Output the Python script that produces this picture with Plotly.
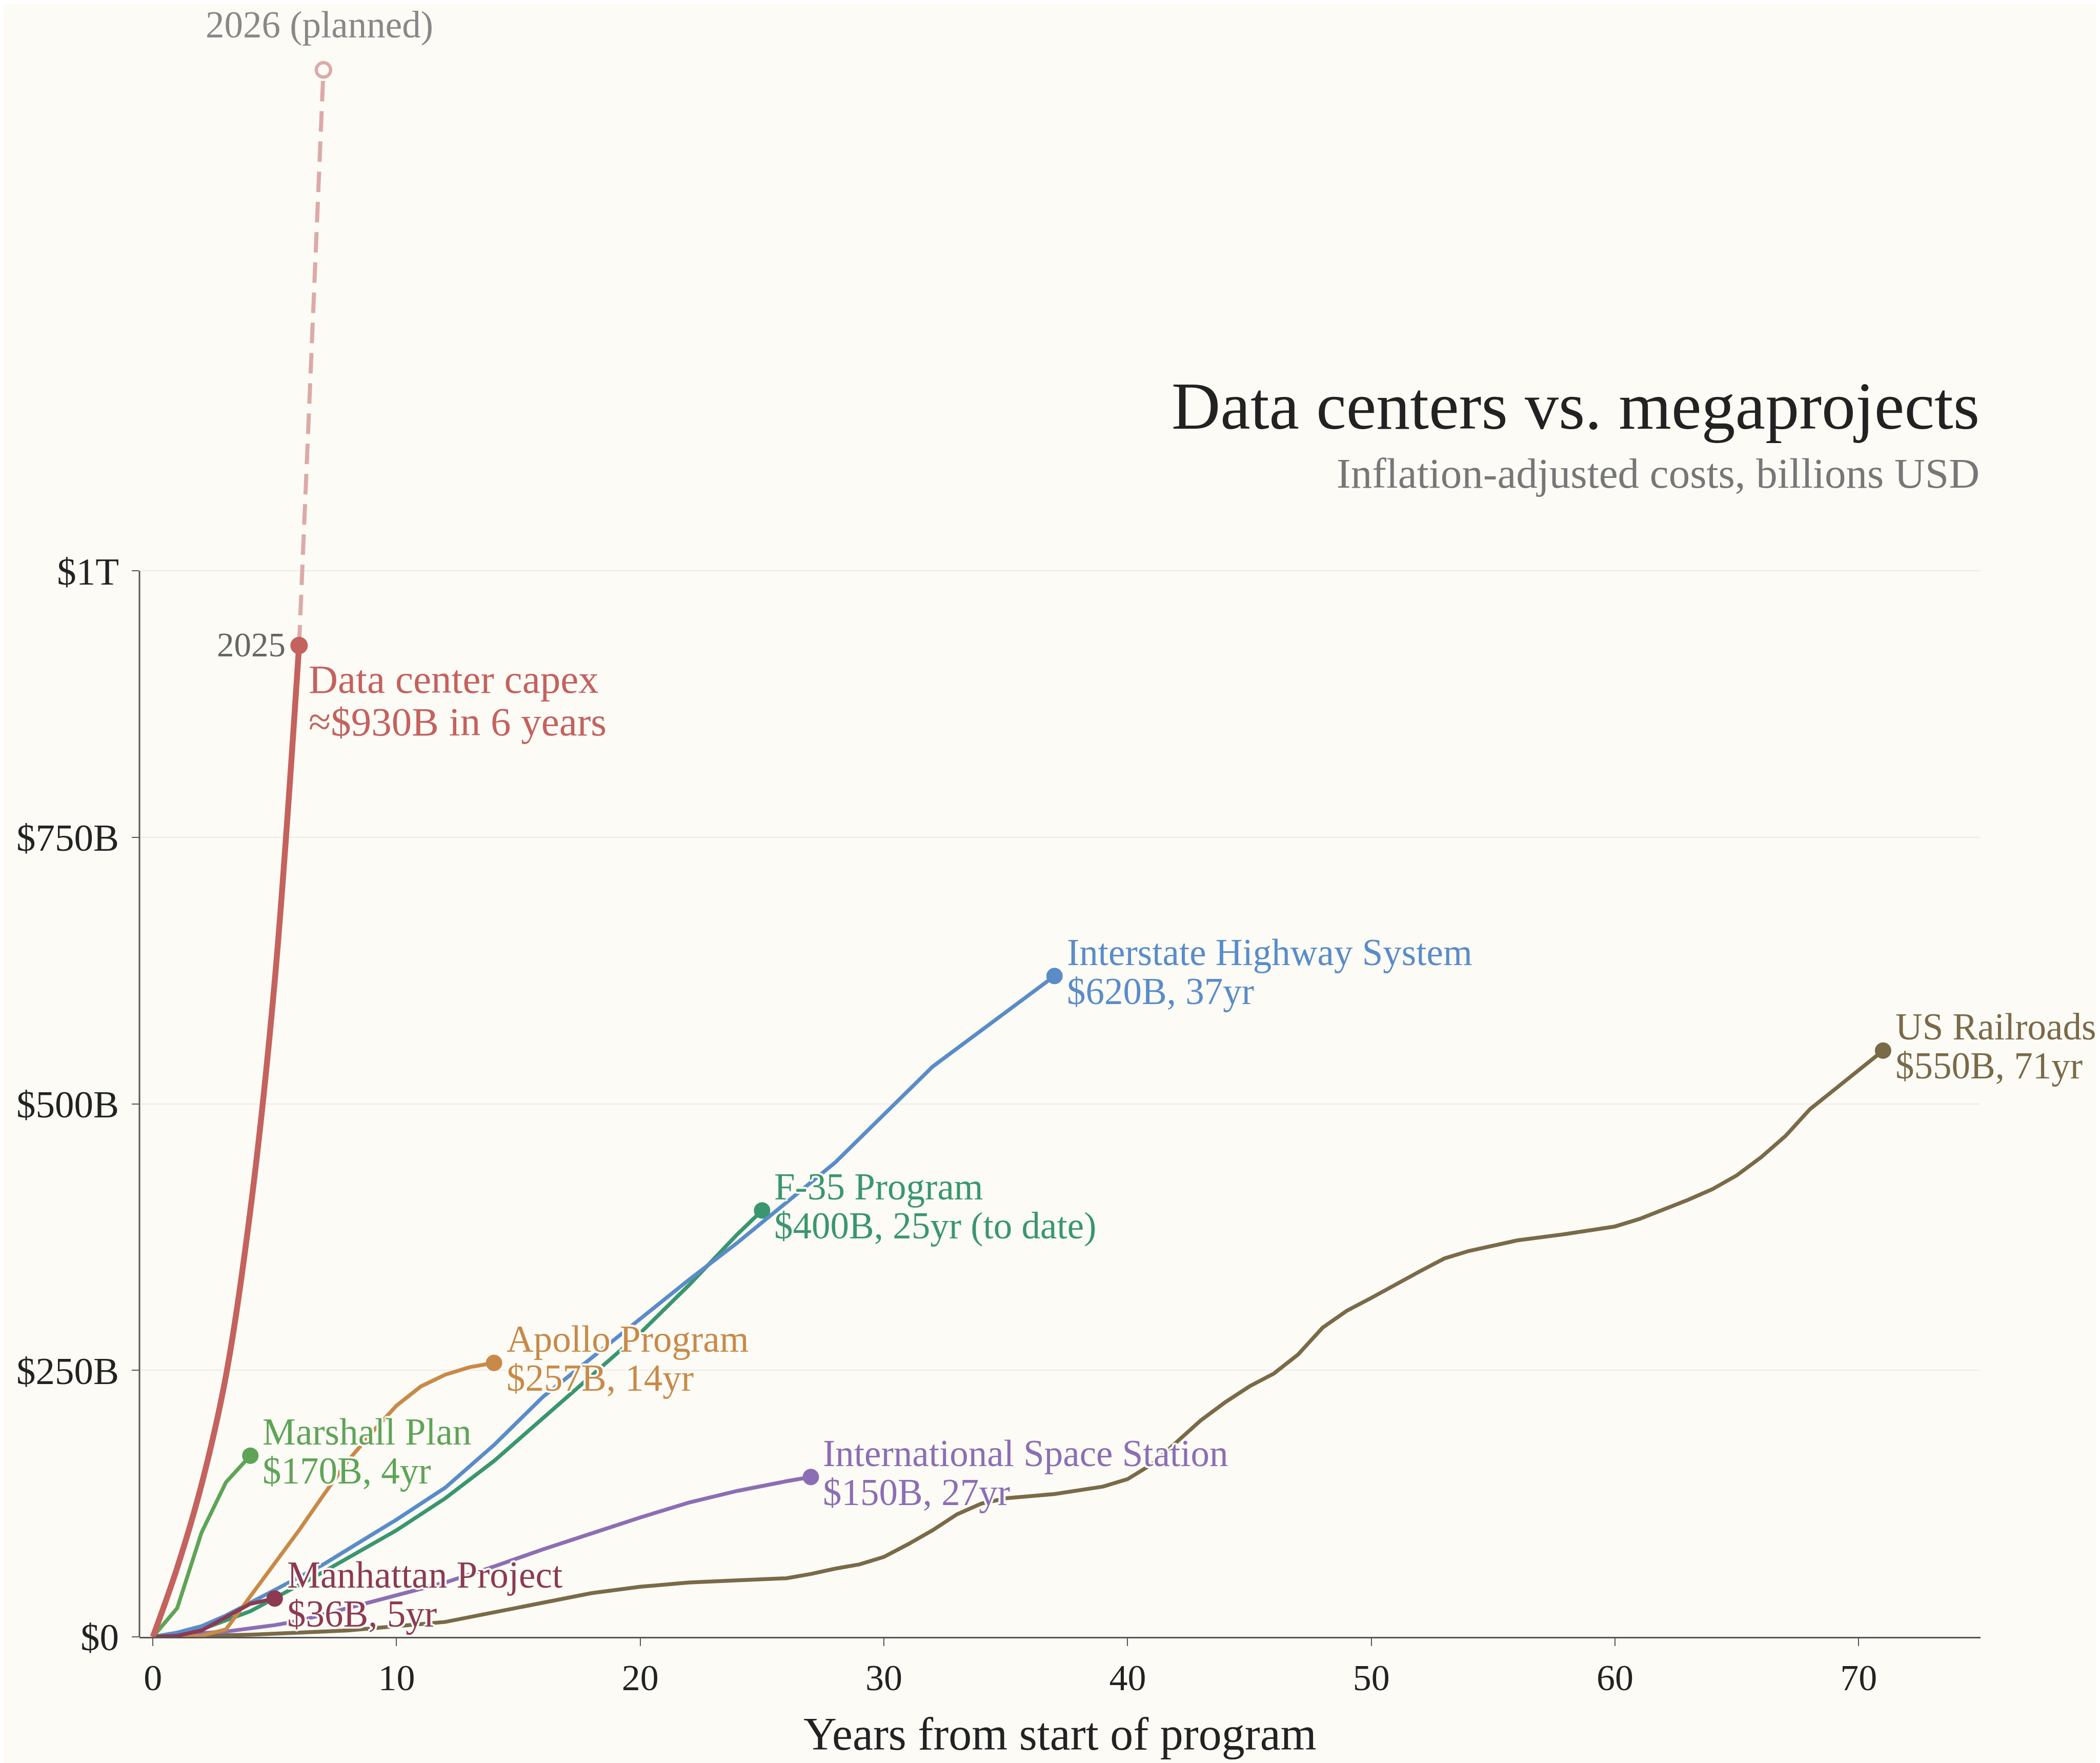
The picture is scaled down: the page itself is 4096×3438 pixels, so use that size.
import plotly.graph_objects as go

# ---------------- data (billions USD, years from program start) ----------------
dc_years = [0, 1, 2, 3, 4, 5, 6]
dc_vals = [0, 65, 143, 245, 400, 615, 930]
planned_year = 7
planned_val = 1470

marshall_years = [0, 1, 2, 3, 4]
marshall_vals = [0, 27, 98, 145, 170]

manhattan_years = [0, 1, 2, 3, 4, 5]
manhattan_vals = [0, 1, 6, 18, 31, 36]

apollo_years = list(range(0, 15))
apollo_vals = [0, 0, 1, 7, 38, 69, 100, 133, 165, 192, 217, 235, 246, 253, 257]

interstate_years = [0, 1, 2, 3, 4, 5, 6, 7, 8, 9, 10, 12, 14, 16, 18, 20, 22, 24, 26, 28, 30, 32, 34, 37]
interstate_vals = [0, 4, 10, 20, 32, 44, 56, 68, 82, 96, 110, 140, 180, 225, 262, 298, 335, 370, 407, 445, 490, 535, 569, 620]

f35_years = [0, 2, 4, 5, 6, 7, 8, 10, 12, 14, 16, 18, 20, 22, 24, 25]
f35_vals = [0, 7, 24, 36, 48, 61, 74, 100, 130, 165, 205, 245, 285, 330, 378, 400]

iss_years = [0, 2, 3, 4, 5, 6, 8, 10, 12, 14, 16, 18, 20, 22, 24, 26, 27]
iss_vals = [0, 3, 5, 8, 11, 15, 27, 39, 51, 66, 82, 97, 112, 126, 137, 146, 150]

rail_years = [0, 2, 4, 6, 8, 10, 12, 14, 16, 18, 20, 22, 24, 26, 27, 28, 29, 30, 31, 32, 33, 34, 35, 37,
              39, 40, 41, 42, 43, 44, 45, 46, 47, 48, 49, 50, 51, 52, 53, 54, 56, 58, 60, 61, 62, 63,
              64, 65, 66, 67, 68, 69, 70, 71]
rail_vals = [0, 1, 2, 4, 6, 10, 14, 23, 32, 41, 47, 51, 53, 55, 59, 64, 68, 75, 87, 100, 115, 125, 130, 134,
             141, 148, 162, 182, 203, 220, 235, 247, 265, 290, 306, 318, 331, 343, 355, 362, 372, 378, 385, 392, 401, 410,
             420, 433, 450, 470, 495, 513, 532, 550]

y_tickvals = [0, 250, 500, 750, 1000]
y_ticktext = ["$0", "$250B", "$500B", "$750B", "$1T"]
x_tickvals = [0, 10, 20, 30, 40, 50, 60, 70]

# ---------------- style ----------------
BG = "#fcfbf6"
FONT = "Liberation Serif"
W, H = 4096, 3438
ML, MR, MT, MB = 264, 241, 66, 254
PLOT_H = H - MT - MB

C_DC = "#c4625e"
C_PLAN = "#dcaaa8"
C_MARSHALL = "#5fa456"
C_MANHATTAN = "#8c3a52"
C_APOLLO = "#c88a48"
C_INTER = "#5a8cc8"
C_F35 = "#3a966e"
C_ISS = "#8c6eb4"
C_RAIL = "#7a6a48"

HALO = ", ".join(f"{dx}px {dy}px 0 {BG}" for dx, dy in
                 [(4, 0), (-4, 0), (0, 4), (0, -4), (3, 3), (-3, 3), (3, -3), (-3, -3)])


def paper_y(px):
    return (H - MB - px) / PLOT_H


fig = go.Figure()

series = [
    ("US Railroads", rail_years, rail_vals, C_RAIL, "$550B, 71yr"),
    ("International Space Station", iss_years, iss_vals, C_ISS, "$150B, 27yr"),
    ("F-35 Program", f35_years, f35_vals, C_F35, "$400B, 25yr (to date)"),
    ("Interstate Highway System", interstate_years, interstate_vals, C_INTER, "$620B, 37yr"),
    ("Apollo Program", apollo_years, apollo_vals, C_APOLLO, "$257B, 14yr"),
    ("Manhattan Project", manhattan_years, manhattan_vals, C_MANHATTAN, "$36B, 5yr"),
    ("Marshall Plan", marshall_years, marshall_vals, C_MARSHALL, "$170B, 4yr"),
]

for name, xs, ys, col, _ in series:
    fig.add_trace(go.Scatter(x=xs, y=ys, mode="lines", line=dict(color=col, width=7.5),
                             hoverinfo="skip", showlegend=False))
    fig.add_trace(go.Scatter(x=[xs[-1]], y=[ys[-1]], mode="markers",
                             marker=dict(color=col, size=32), hoverinfo="skip", showlegend=False))

# planned dashed extension
fig.add_trace(go.Scatter(x=[dc_years[-1], planned_year], y=[dc_vals[-1], planned_val], mode="lines",
                         line=dict(color=C_PLAN, width=8, dash="40px,19px"),
                         hoverinfo="skip", showlegend=False))
fig.add_trace(go.Scatter(x=[planned_year], y=[planned_val], mode="markers",
                         marker=dict(color=BG, size=28, line=dict(color=C_PLAN, width=6.5)),
                         hoverinfo="skip", showlegend=False))
# data center capex
fig.add_trace(go.Scatter(x=dc_years, y=dc_vals, mode="lines", line=dict(color=C_DC, width=11.5, shape="spline"),
                         hoverinfo="skip", showlegend=False))
fig.add_trace(go.Scatter(x=[dc_years[-1]], y=[dc_vals[-1]], mode="markers",
                         marker=dict(color=C_DC, size=34), hoverinfo="skip", showlegend=False))

annotations = []
LABEL_SIZE = 73
for name, xs, ys, col, sub in series:
    for txt, ysh in [(name, 46), (sub, -30)]:
        annotations.append(dict(x=xs[-1], y=ys[-1], xref="x", yref="y", text=txt, showarrow=False,
                                xanchor="left", yanchor="middle", xshift=22, yshift=ysh,
                                font=dict(family=FONT, size=LABEL_SIZE, color=col, shadow=HALO)))

for txt, ysh in [("Data center capex", -66), ("≈$930B in 6 years", -149)]:
    annotations.append(dict(x=dc_years[-1], y=dc_vals[-1], xref="x", yref="y", text=txt, showarrow=False,
                            xanchor="left", yanchor="middle", xshift=17, yshift=ysh,
                            font=dict(family=FONT, size=79, color=C_DC, shadow=HALO)))

annotations.append(dict(x=dc_years[-1], y=dc_vals[-1], xref="x", yref="y", text="2025", showarrow=False,
                        xanchor="right", yanchor="middle", xshift=-24, yshift=2,
                        font=dict(family=FONT, size=67, color="#666666")))
annotations.append(dict(x=planned_year, y=planned_val, xref="x", yref="y", text="2026 (planned)",
                        showarrow=False, xanchor="center", yanchor="middle", xshift=-8, yshift=88,
                        font=dict(family=FONT, size=73, color="#888888")))

# title, subtitle, x title
annotations.append(dict(x=1, y=paper_y(783), xref="paper", yref="paper", text="Data centers vs. megaprojects",
                        showarrow=False, xanchor="right", yanchor="middle",
                        font=dict(family=FONT, size=132, color="#222222")))
annotations.append(dict(x=1, y=paper_y(915), xref="paper", yref="paper",
                        text="Inflation-adjusted costs, billions USD",
                        showarrow=False, xanchor="right", yanchor="middle",
                        font=dict(family=FONT, size=83, color="#777777")))
annotations.append(dict(x=0.5, y=paper_y(3373), xref="paper", yref="paper", text="Years from start of program",
                        showarrow=False, xanchor="center", yanchor="middle",
                        font=dict(family=FONT, size=90, color="#222222")))

fig.update_layout(
    width=W, height=H,
    margin=dict(l=ML, r=MR, t=MT, b=MB, pad=0),
    paper_bgcolor=BG, plot_bgcolor=BG,
    font=dict(family=FONT, color="#222222"),
    annotations=annotations,
    showlegend=False,
    shapes=[dict(type="line", xref="paper", yref="y", x0=0, x1=0, y0=0, y1=1000,
                 line=dict(color="#555555", width=3), layer="above")],
)

fig.update_xaxes(range=[-0.55, 75], tickvals=x_tickvals, showgrid=False, zeroline=False,
                 showline=True, linecolor="#555555", linewidth=3,
                 ticks="outside", ticklen=15, tickwidth=2, tickcolor="#555555",
                 tickfont=dict(family=FONT, size=72, color="#222222"))
fig.update_yaxes(range=[0, 1500], tickvals=y_tickvals, ticktext=y_ticktext, showgrid=True,
                 gridcolor="#ecebe5", gridwidth=2, zeroline=False, showline=False,
                 ticks="outside", ticklen=14, tickwidth=2, tickcolor="#555555",
                 ticklabelstandoff=10,
                 tickfont=dict(family=FONT, size=75, color="#222222"))

fig.write_html("out.html")
